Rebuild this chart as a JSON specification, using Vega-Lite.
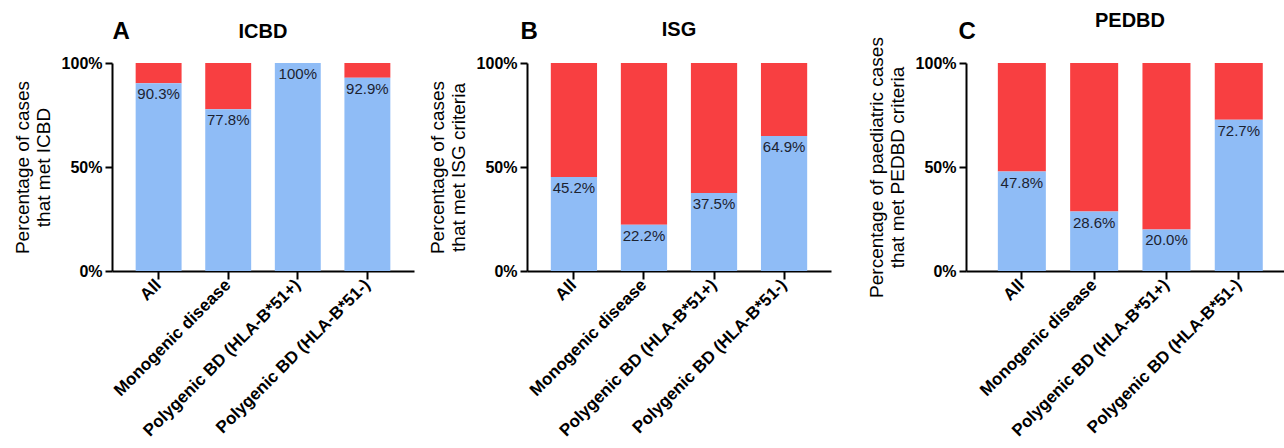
{
  "$schema": "https://vega.github.io/schema/vega-lite/v6.json",
  "padding": {"left": 13, "top": 11, "right": 0, "bottom": 0},
  "config": {
    "font": "Liberation Sans",
    "view": {"stroke": null},
    "axis": {"grid": false, "domainColor": "#000", "domainWidth": 2, "tickColor": "#000", "tickWidth": 2, "labelColor": "#000", "titleColor": "#000"},
    "title": {"color": "#000"}
  },
  "hconcat": [
    {
      "spacing": 14,
      "hconcat": [
        {
          "width": 302, "height": 208,
          "data": {"values": [
            {"group": "All", "met": 90.3, "label": "90.3%"},
            {"group": "Monogenic disease", "met": 77.8, "label": "77.8%"},
            {"group": "Polygenic BD (HLA-B*51+)", "met": 100, "label": "100%"},
            {"group": "Polygenic BD (HLA-B*51-)", "met": 92.9, "label": "92.9%"}
          ]},
          "title": {"text": "ICBD", "fontSize": 20, "fontWeight": "bold", "anchor": "middle", "frame": "group", "baseline": "alphabetic", "offset": -39},
          "encoding": {
            "y": {"field": "met", "type": "quantitative", "scale": {"domain": [0, 100]},
              "axis": {"values": [0, 50, 100], "labelExpr": "datum.value + '%'", "title": ["Percentage of cases", "that met ICBD"], "titleFontSize": 19, "titleFontWeight": "normal", "titlePadding": 8, "titleLineHeight": 21, "labelFontSize": 16, "labelFontWeight": "bold", "labelPadding": 3, "tickSize": 7}}
          },
          "layer": [
            {"mark": {"type": "bar", "color": "#f83f41"},
              "encoding": {
                "x": {"field": "group", "type": "nominal", "sort": null,
                  "scale": {"paddingInner": 0.34, "paddingOuter": 0.34},
                  "axis": {"title": null, "labelAngle": -45, "labelAlign": "right", "labelBaseline": "middle", "labelFontSize": 17, "labelFontWeight": "bold", "labelLimit": 400, "tickSize": 8, "labelPadding": 3}},
                "y2": {"datum": 100}
              }},
            {"mark": {"type": "bar", "color": "#8fbcf6"},
              "encoding": {
                "x": {"field": "group", "type": "nominal", "sort": null, "axis": null}
              }},
            {"mark": {"type": "text", "baseline": "top", "dy": 4, "fontSize": 15, "color": "#1c2331"},
              "encoding": {
                "text": {"field": "label"},
                "x": {"field": "group", "type": "nominal", "sort": null,
                  "axis": {"orient": "top", "labels": false, "ticks": false, "domain": false, "title": "A", "titleFontSize": 24, "titleFontWeight": "bold", "titleAnchor": "start", "titleAlign": "left", "titleBaseline": "alphabetic", "titleX": 0, "titleY": -25}}
              }}
          ],
          "resolve": {"axis": {"x": "independent"}}
        },
        {
          "width": 304, "height": 208,
          "data": {"values": [
            {"group": "All", "met": 45.2, "label": "45.2%"},
            {"group": "Monogenic disease", "met": 22.2, "label": "22.2%"},
            {"group": "Polygenic BD (HLA-B*51+)", "met": 37.5, "label": "37.5%"},
            {"group": "Polygenic BD (HLA-B*51-)", "met": 64.9, "label": "64.9%"}
          ]},
          "title": {"text": "ISG", "fontSize": 20, "fontWeight": "bold", "anchor": "middle", "frame": "group", "baseline": "alphabetic", "offset": -37},
          "encoding": {
            "y": {"field": "met", "type": "quantitative", "scale": {"domain": [0, 100]},
              "axis": {"values": [0, 50, 100], "labelExpr": "datum.value + '%'", "title": ["Percentage of cases", "that met ISG criteria"], "titleFontSize": 19, "titleFontWeight": "normal", "titlePadding": 8, "titleLineHeight": 21, "labelFontSize": 16, "labelFontWeight": "bold", "labelPadding": 3, "tickSize": 7}}
          },
          "layer": [
            {"mark": {"type": "bar", "color": "#f83f41"},
              "encoding": {
                "x": {"field": "group", "type": "nominal", "sort": null,
                  "scale": {"paddingInner": 0.34, "paddingOuter": 0.34},
                  "axis": {"title": null, "labelAngle": -45, "labelAlign": "right", "labelBaseline": "middle", "labelFontSize": 17, "labelFontWeight": "bold", "labelLimit": 400, "tickSize": 8, "labelPadding": 3}},
                "y2": {"datum": 100}
              }},
            {"mark": {"type": "bar", "color": "#8fbcf6"},
              "encoding": {
                "x": {"field": "group", "type": "nominal", "sort": null, "axis": null}
              }},
            {"mark": {"type": "text", "baseline": "top", "dy": 4, "fontSize": 15, "color": "#1c2331"},
              "encoding": {
                "text": {"field": "label"},
                "x": {"field": "group", "type": "nominal", "sort": null,
                  "axis": {"orient": "top", "labels": false, "ticks": false, "domain": false, "title": "B", "titleFontSize": 24, "titleFontWeight": "bold", "titleAnchor": "start", "titleAlign": "left", "titleBaseline": "alphabetic", "titleX": -7, "titleY": -25}}
              }}
          ],
          "resolve": {"axis": {"x": "independent"}}
        }
      ]
    },
    {
      "width": 318, "height": 208,
      "data": {"values": [
        {"group": "All", "met": 47.8, "label": "47.8%"},
        {"group": "Monogenic disease", "met": 28.6, "label": "28.6%"},
        {"group": "Polygenic BD (HLA-B*51+)", "met": 20.0, "label": "20.0%"},
        {"group": "Polygenic BD (HLA-B*51-)", "met": 72.7, "label": "72.7%"}
      ]},
      "title": {"text": "PEDBD", "fontSize": 20, "fontWeight": "bold", "anchor": "middle", "frame": "group", "baseline": "alphabetic", "offset": -28, "dx": 5},
      "encoding": {
        "y": {"field": "met", "type": "quantitative", "scale": {"domain": [0, 100]},
          "axis": {"values": [0, 50, 100], "labelExpr": "datum.value + '%'", "title": ["Percentage of paediatric cases", "that met PEDBD criteria"], "titleFontSize": 19, "titleFontWeight": "normal", "titlePadding": 8, "titleLineHeight": 21, "labelFontSize": 16, "labelFontWeight": "bold", "labelPadding": 3, "tickSize": 7}}
      },
      "layer": [
        {"mark": {"type": "bar", "color": "#f83f41"},
          "encoding": {
            "x": {"field": "group", "type": "nominal", "sort": null,
              "scale": {"paddingInner": 0.336, "paddingOuter": 0.367, "align": 0.6},
              "axis": {"title": null, "labelAngle": -45, "labelAlign": "right", "labelBaseline": "middle", "labelFontSize": 17, "labelFontWeight": "bold", "labelLimit": 400, "tickSize": 8, "labelPadding": 3}},
            "y2": {"datum": 100}
          }},
        {"mark": {"type": "bar", "color": "#8fbcf6"},
          "encoding": {
            "x": {"field": "group", "type": "nominal", "sort": null, "axis": null}
          }},
        {"mark": {"type": "text", "baseline": "top", "dy": 4, "fontSize": 15, "color": "#1c2331"},
          "encoding": {
            "text": {"field": "label"},
            "x": {"field": "group", "type": "nominal", "sort": null,
              "axis": {"orient": "top", "labels": false, "ticks": false, "domain": false, "title": "C", "titleFontSize": 24, "titleFontWeight": "bold", "titleAnchor": "start", "titleAlign": "left", "titleBaseline": "alphabetic", "titleX": -8, "titleY": -25}}
          }}
      ],
      "resolve": {"axis": {"x": "independent"}}
    }
  ],
  "spacing": 36
}
